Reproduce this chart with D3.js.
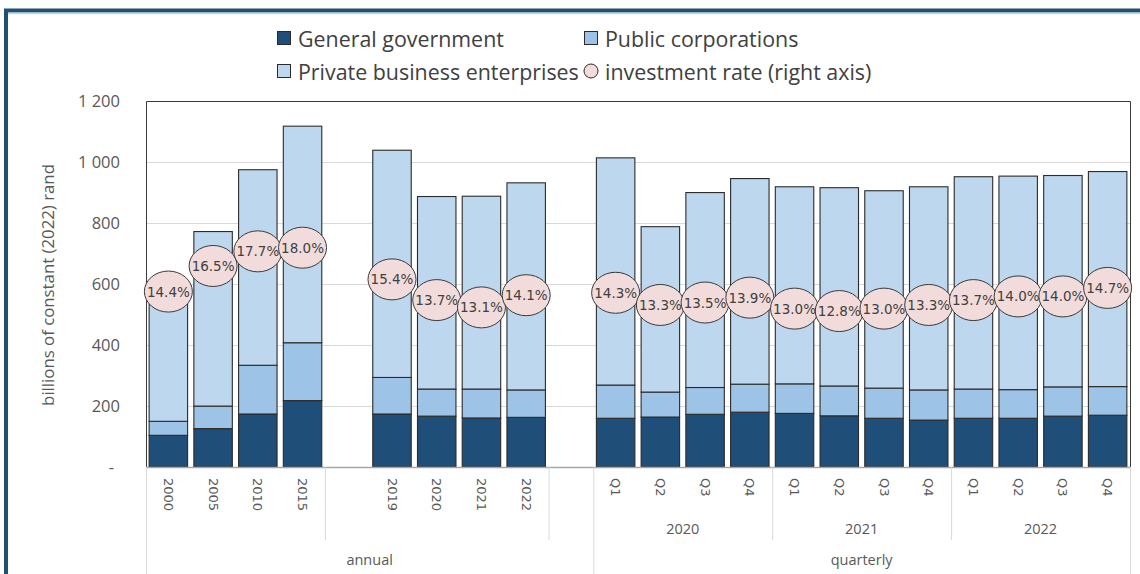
<!DOCTYPE html>
<html><head><meta charset="utf-8">
<script src="https://cdn.jsdelivr.net/npm/d3@7"></script>
<style>body{margin:0;background:#fff}svg{display:block}</style>
</head><body>
<svg id="c" width="1140" height="574"></svg>
<script>
// ---- data ----
const periods = ["2000","2005","2010","2015","","2019","2020","2021","2022","",
  "Q1","Q2","Q3","Q4","Q1","Q2","Q3","Q4","Q1","Q2","Q3","Q4"];
const generalGovernment = [104,126,174,218,null,174,167,161,163,null,
  160,164,173,180,176,168,160,154,160,160,167,170];
const publicCorporations = [46,74,160,190,null,120,89,95,90,null,
  109,82,88,92,97,98,99,99,96,94,96,94];
const privateBusiness = [385,573,642,711,null,746,632,633,680,null,
  746,543,640,675,647,651,648,667,697,701,694,706];
const investmentRate = [14.4,16.5,17.7,18.0,null,15.4,13.7,13.1,14.1,null,
  14.3,13.3,13.5,13.9,13.0,12.8,13.0,13.3,13.7,14.0,14.0,14.7];
const yTicks = [0,200,400,600,800,1000,1200];
const seriesNames = ["General government","Public corporations","Private business enterprises","investment rate (right axis)"];
// second-level category groups: [label, firstSlot, lastSlot]
const level2Groups = [["",0,3],["",4,8],["",9,9],["2020",10,13],["2021",14,17],["2022",18,21]];
const level3Groups = [["annual",0,9],["quarterly",10,21]];

const colors = ["#1f4e79","#9dc3e6","#bdd7ee"];
const svg = d3.select("#c");
const L=146, R=1130, T=101.5, B=467;

const x = d3.scaleBand().domain(d3.range(periods.length)).range([L,R])
  .paddingInner(0.14).paddingOuter(0.07);
const step = x.step();
const edge = i => L + i*step;
const y = d3.scaleLinear().domain([0,1200]).range([B,T]);
const y2 = d3.scaleLinear().domain([0,30]).range([B,T]);

// outer frame
svg.append("path").attr("d",`M6,580 L6,10.5 L1150,10.5`).attr("fill","none")
  .attr("stroke","#1f5270").attr("stroke-width",4);
svg.append("line").attr("x1",8).attr("x2",1140).attr("y1",13.5).attr("y2",13.5)
  .attr("stroke","#ccd6de").attr("stroke-width",1.5);

// gridlines
svg.append("g").selectAll("line").data(yTicks.filter(d=>d>0&&d<1200)).join("line")
  .attr("x1",L).attr("x2",R).attr("y1",d=>Math.round(y(d))+0.5).attr("y2",d=>Math.round(y(d))+0.5)
  .attr("stroke","#d9d9d9").attr("stroke-width",1.2);

// y axis labels
const fmt = d => d===0 ? "-" : d3.format(",")(d).replace(","," ");
const ya = svg.append("g").attr("transform",`translate(${L},0)`)
  .call(d3.axisLeft(y).tickValues(yTicks).tickSize(0).tickPadding(26).tickFormat(fmt));
ya.select(".domain").remove();
ya.selectAll("text").attr("font-family","Open Sans").attr("font-size",16.5).attr("fill","#595959")
  .attr("dx",d=>d===0?-6:0);
svg.append("text").attr("transform","translate(47,285) rotate(-90)").attr("text-anchor","middle")
  .attr("dominant-baseline","central").attr("font-family","Open Sans").attr("font-size",16.8)
  .attr("fill","#595959").text("billions of constant (2022) rand");

// stacked bars
const rows = periods.map((p,i)=>({i, g:generalGovernment[i]||0, p:publicCorporations[i]||0, b:privateBusiness[i]||0, valid:generalGovernment[i]!=null}));
const stack = d3.stack().keys(["g","p","b"])(rows);
svg.append("g").selectAll("g").data(stack).join("g").attr("fill",(d,k)=>colors[k])
  .selectAll("rect").data(d=>d.filter(s=>s.data.valid)).join("rect")
  .attr("x",d=>x(d.data.i)).attr("width",x.bandwidth())
  .attr("y",d=>y(d[1])).attr("height",d=>y(d[0])-y(d[1]))
  .attr("stroke","#2b2b2b").attr("stroke-width",1.1);

// plot border
svg.append("path").attr("d",`M${L+0.5},${B} L${L+0.5},${T} L${R+0.5},${T} L${R+0.5},${B}`)
  .attr("fill","none").attr("stroke","#3a3a3a").attr("stroke-width",1);

// x axis
svg.append("line").attr("x1",L).attr("x2",R+1).attr("y1",B+0.5).attr("y2",B+0.5)
  .attr("stroke","#a6a6a6").attr("stroke-width",1.5);
const sepFull = [0,10,22], sepMid = [4,9,14,18];
svg.append("g").selectAll("line").data(sepFull).join("line")
  .attr("x1",i=>edge(i)+0.5).attr("x2",i=>edge(i)+0.5).attr("y1",B).attr("y2",574)
  .attr("stroke","#d9d9d9").attr("stroke-width",1);
svg.append("g").selectAll("line").data(sepMid).join("line")
  .attr("x1",i=>edge(i)+0.5).attr("x2",i=>edge(i)+0.5).attr("y1",B).attr("y2",540)
  .attr("stroke","#d9d9d9").attr("stroke-width",1);
svg.append("g").selectAll("text").data(periods.map((p,i)=>({p,i})).filter(d=>d.p)).join("text")
  .attr("transform",d=>`translate(${x(d.i)+x.bandwidth()/2},478) rotate(90)`)
  .attr("dominant-baseline","central").attr("font-family","DejaVu Sans").attr("font-size",13)
  .attr("fill","#595959").text(d=>d.p);
svg.append("g").selectAll("text").data(level2Groups.filter(d=>d[0])).join("text")
  .attr("x",d=>(edge(d[1])+edge(d[2]+1))/2).attr("y",528).attr("text-anchor","middle")
  .attr("dominant-baseline","central").attr("font-family","Open Sans").attr("font-size",14.5)
  .attr("fill","#595959").text(d=>d[0]);
svg.append("g").selectAll("text").data(level3Groups).join("text")
  .attr("x",d=>(edge(d[1])+edge(d[2]+1))/2).attr("y",559).attr("text-anchor","middle")
  .attr("dominant-baseline","central").attr("font-family","Open Sans").attr("font-size",14.5)
  .attr("fill","#595959").text(d=>d[0]);

// investment rate ellipses
const pts = investmentRate.map((v,i)=>({v,i})).filter(d=>d.v!=null);
const eg = svg.append("g").selectAll("g").data(pts).join("g")
  .attr("transform",d=>`translate(${x(d.i)+x.bandwidth()/2},${y2(d.v)})`);
eg.append("ellipse").attr("rx",24).attr("ry",20.5).attr("fill","#f2dcdb")
  .attr("stroke","#3a3a3a").attr("stroke-width",1);
eg.append("text").attr("text-anchor","middle").attr("dominant-baseline","central")
  .attr("font-family","DejaVu Sans").attr("font-size",13.5).attr("fill","#404040")
  .text(d=>d3.format(".1f")(d.v)+"%");

// legend
const leg = [
  {n:seriesNames[0],x:277,y:38,c:colors[0],t:"sq"},
  {n:seriesNames[1],x:584,y:38,c:colors[1],t:"sq"},
  {n:seriesNames[2],x:277,y:71,c:colors[2],t:"sq"},
  {n:seriesNames[3],x:584,y:71,c:"#f2dcdb",t:"ci"}];
const lg = svg.append("g").selectAll("g").data(leg).join("g")
  .attr("transform",d=>`translate(${d.x},${d.y})`);
lg.filter(d=>d.t==="sq").append("rect").attr("x",0.5).attr("y",-6.5).attr("width",13).attr("height",13)
  .attr("fill",d=>d.c).attr("stroke","#2b2b2b").attr("stroke-width",1);
lg.filter(d=>d.t==="ci").append("circle").attr("cx",7).attr("cy",0).attr("r",7)
  .attr("fill",d=>d.c).attr("stroke","#2b2b2b").attr("stroke-width",1);
lg.append("text").attr("x",21).attr("y",0).attr("dominant-baseline","central")
  .attr("font-family","Open Sans").attr("font-size",21.4).attr("fill","#404040").text(d=>d.n);
</script>
</body></html>
